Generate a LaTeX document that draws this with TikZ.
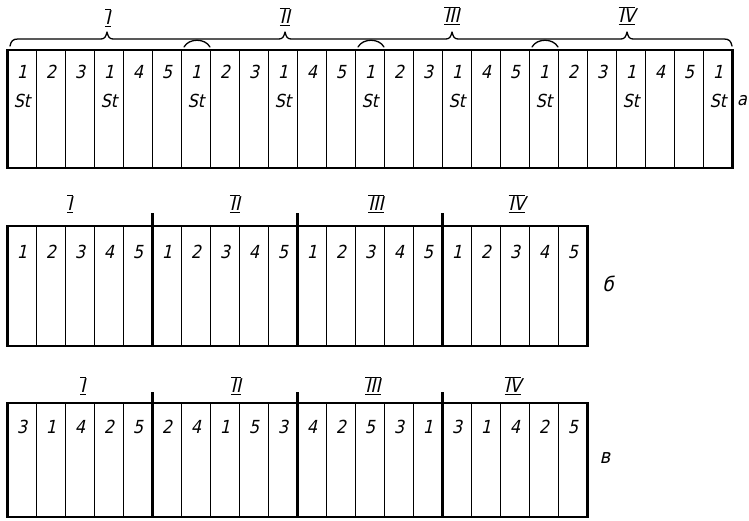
\documentclass[tikz,border=0pt]{standalone}
\usepackage{fontspec}
\newfontfamily\gost[FakeSlant=0.22]{DejaVu Sans Condensed}
\newcommand\rnum[1]{$\overline{\underline{\mbox{\gost #1}}}$}
\begin{document}
\begin{tikzpicture}[x=1pt,y=1pt,
  cella/.style={minimum width=29pt, minimum height=118pt, inner sep=0pt, outer sep=0pt, anchor=north west},
  cellb/.style={minimum width=29pt, minimum height=120pt, inner sep=0pt, outer sep=0pt, anchor=north west},
  cellc/.style={minimum width=29pt, minimum height=114pt, inner sep=0pt, outer sep=0pt, anchor=north west},
  num/.style={font=\gost\fontsize{18}{18}\selectfont, inner sep=0pt},
  lab/.style={font=\gost\fontsize{20}{20}\selectfont, inner sep=0pt},
  rom/.style={font=\fontsize{19}{19}\selectfont, inner sep=0pt},
  divider/.style={line width=1.1pt},
  frame/.style={line width=2.2pt},
  sep/.style={line width=2.2pt},
  brace/.style={line width=1.3pt, line cap=round, line join=round}]
\useasboundingbox (0,0) rectangle (749,-520);
% ---------- row a ----------
\foreach \t [count=\i from 0] in {1,2,3,1,4,5,1,2,3,1,4,5,1,2,3,1,4,5,1,2,3,1,4,5,1}{
  \node[cella] (a\i) at ({7.5+\i*29},-50) {};
  \node[num] (an\i) at ([yshift=-22pt]a\i.north) {\t};
}
\foreach \i in {0,3,...,24}{
  \node[num] (ast\i) at ([yshift=-51pt]a\i.north) {St};
}
\foreach \i in {1,...,24}{
  \draw[divider] (a\i.north west) -- (a\i.south west);
}
\draw[frame] (a0.north west) -- (a24.north east) -- (a24.south east) -- (a0.south west) -- cycle;
% braces
\draw[brace] (10,-46) .. controls (11,-41) and (13,-39) .. (18,-39)
  -- (101,-39) .. controls (105,-39) and (106,-36) .. (107,-32) .. controls (108,-36) and (109,-39) .. (113,-39)
  -- (279,-39) .. controls (283,-39) and (284,-36) .. (285,-32) .. controls (286,-36) and (287,-39) .. (291,-39)
  -- (446,-39) .. controls (450,-39) and (451,-36) .. (452,-32) .. controls (453,-36) and (454,-39) .. (458,-39)
  -- (621,-39) .. controls (625,-39) and (626,-36) .. (627,-32) .. controls (628,-36) and (629,-39) .. (633,-39)
  -- (724,-39) .. controls (729,-39) and (731,-41) .. (732,-46);
\foreach \k in {6,12,18}{
  \pgfmathsetmacro\xl{7.5+\k*29+2.5}
  \pgfmathsetmacro\xr{\xl+26}
  \draw[brace] (\xl,-47) .. controls (\xl+5,-38) and (\xr-5,-38) .. (\xr,-47);
}
\node[rom] (ra1) at (108,-18) {\rnum{I}};
\node[rom] (ra2) at (285,-17) {\rnum{II}};
\node[rom] (ra3) at (452,-16) {\rnum{III}};
\node[rom] (ra4) at (627,-16) {\rnum{IV}};
\node[num] (la) at (742,-101) {а};
% ---------- row b ----------
\foreach \t [count=\i from 0] in {1,2,3,4,5,1,2,3,4,5,1,2,3,4,5,1,2,3,4,5}{
  \node[cellb] (b\i) at ({7.5+\i*29},-226) {};
  \node[num] (bn\i) at ([yshift=-26pt]b\i.north) {\t};
}
\foreach \i in {1,2,3,4,6,7,8,9,11,12,13,14,16,17,18,19}{
  \draw[divider] (b\i.north west) -- (b\i.south west);
}
\draw[frame] (b0.north west) -- (b19.north east) -- (b19.south east) -- (b0.south west) -- cycle;
\foreach \k in {5,10,15}{
  \draw[sep] ([yshift=13pt]b\k.north west) -- (b\k.south west);
}
\node[rom] (rb1) at (70,-204) {\rnum{I}};
\node[rom] (rb2) at (235,-204) {\rnum{II}};
\node[rom] (rb3) at (376,-204) {\rnum{III}};
\node[rom] (rb4) at (517,-204) {\rnum{IV}};
\node[lab] (lb) at (608,-284) {б};
% ---------- row c ----------
\foreach \t [count=\i from 0] in {3,1,4,2,5,2,4,1,5,3,4,2,5,3,1,3,1,4,2,5}{
  \node[cellc] (c\i) at ({7.5+\i*29},-403) {};
  \node[num] (cn\i) at ([yshift=-24pt]c\i.north) {\t};
}
\foreach \i in {1,2,3,4,6,7,8,9,11,12,13,14,16,17,18,19}{
  \draw[divider] (c\i.north west) -- (c\i.south west);
}
\draw[frame] (c0.north west) -- (c19.north east) -- (c19.south east) -- (c0.south west) -- cycle;
\foreach \k in {5,10,15}{
  \draw[sep] ([yshift=11pt]c\k.north west) -- (c\k.south west);
}
\node[rom] (rc1) at (83,-386) {\rnum{I}};
\node[rom] (rc2) at (236,-386) {\rnum{II}};
\node[rom] (rc3) at (373,-386) {\rnum{III}};
\node[rom] (rc4) at (513,-386) {\rnum{IV}};
\node[lab] (lc) at (605,-458) {в};
\end{tikzpicture}
\end{document}
